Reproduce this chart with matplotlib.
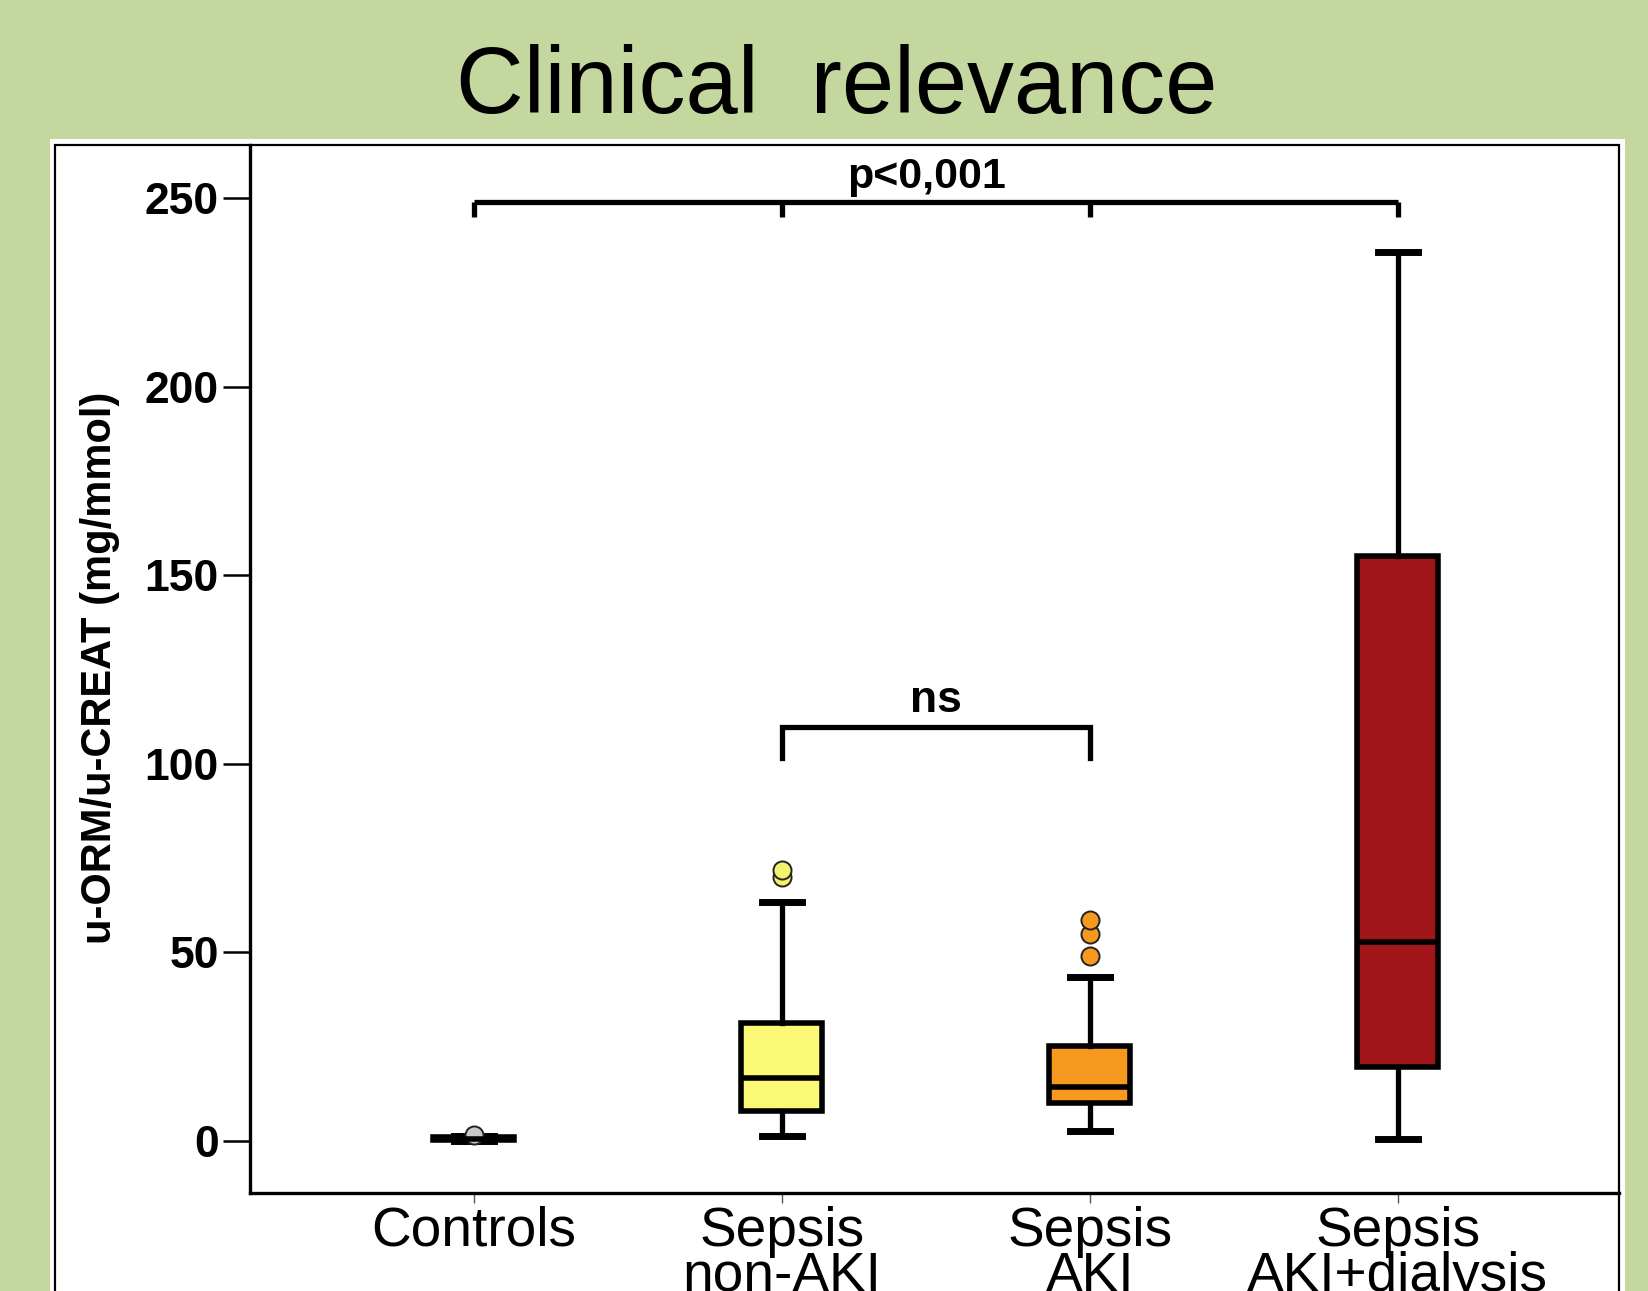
import matplotlib
matplotlib.use("Agg")
import matplotlib.pyplot as plt
from matplotlib.patches import Rectangle

# group summaries (u-ORM/u-CREAT, mg/mmol)
groups = ["Controls", "Sepsis\nnon-AKI", "Sepsis\nAKI", "Sepsis\nAKI+dialysis"]
q1 = [0.2, 7.8, 9.9, 19.4]
median = [0.5, 16.6, 14.2, 52.6]
q3 = [1.0, 31.2, 25.1, 155.0]
whisker_low = [0.0, 1.2, 2.5, 0.4]
whisker_high = [1.2, 63.3, 43.4, 235.8]
outliers = [[1.4], [69.9, 71.8], [49.0, 54.8, 58.5], []]
box_colors = ["#d9d9d9", "#fbf876", "#f7991f", "#a1161b"]
flier_colors = ["#c8c8c8", "#f4f26c", "#f7991f", "#a1161b"]

yticks = [0, 50, 100, 150, 200, 250]

# significance brackets
p_groups = [0, 1, 2, 3]
p_level, p_tip = 249, 245
ns_groups = [1, 2]
ns_level, ns_tip = 109.7, 101.5

W, H = 1649, 1291
green = "#c4d79e"

fig = plt.figure(figsize=(W / 100, H / 100), dpi=100, facecolor=green)

# white panel with thin black frame
fig.patches.append(Rectangle((50 / W, -0.05), (1625 - 50) / W, (H - 139) / H + 0.05,
                             transform=fig.transFigure, facecolor="white",
                             edgecolor="none", zorder=-2))
fig.patches.append(Rectangle((55 / W, -0.05), (1619 - 55) / W, (H - 145) / H + 0.05,
                             transform=fig.transFigure, fill=False,
                             edgecolor="black", linewidth=1.6, zorder=-1))

ax = fig.add_axes([250 / W, 1 - 1193 / H, (1619 - 250) / W, (1193 - 145) / H])
ax.set_facecolor("none")

stats = []
for i in range(len(groups)):
    stats.append(dict(med=median[i], q1=q1[i], q3=q3[i],
                      whislo=whisker_low[i], whishi=whisker_high[i],
                      fliers=outliers[i]))

bp = ax.bxp(stats, positions=range(len(groups)), widths=0.263, capwidths=0.13,
            patch_artist=True,
            boxprops=dict(linewidth=4.0, edgecolor="black"),
            whiskerprops=dict(linewidth=3.8, color="black"),
            capprops=dict(linewidth=5.0, color="black"),
            medianprops=dict(linewidth=4.0, color="black"),
            flierprops=dict(marker="o", markersize=13, markeredgecolor="#222222",
                            markeredgewidth=1.4))
for patch, c in zip(bp["boxes"], box_colors):
    patch.set_facecolor(c)
for fl, c in zip(bp["fliers"], flier_colors):
    fl.set_markerfacecolor(c)

# brackets
ax.plot([p_groups[0], p_groups[-1]], [p_level, p_level], color="black", lw=3.8,
        solid_capstyle="butt", clip_on=False)
for g in p_groups:
    ax.plot([g, g], [p_level, p_tip], color="black", lw=3.8,
            solid_capstyle="butt", clip_on=False)
ax.plot([ns_groups[0], ns_groups[0], ns_groups[1], ns_groups[1]],
        [ns_tip, ns_level, ns_level, ns_tip], color="black", lw=3.8,
        solid_joinstyle="miter")
ax.text(1.47, p_level + 1.2, "p<0,001", ha="center", va="bottom",
        fontsize=31, fontweight="bold", family="Liberation Sans")
ax.text(1.5, ns_level + 1.5, "ns", ha="center", va="bottom",
        fontsize=32, fontweight="bold", family="Liberation Sans")

ax.set_xlim(-0.727, 3.718)
ax.set_ylim(-13.9, 264.1)
ax.set_yticks(yticks)
ax.set_yticklabels([str(v) for v in yticks], fontsize=32, fontweight="bold",
                   family="Liberation Sans")
ax.set_xticks(range(len(groups)))
ax.set_xticklabels(groups, fontsize=39.6, family="Liberation Sans", linespacing=0.83)

ax.spines["top"].set_visible(False)
ax.spines["right"].set_visible(False)
ax.spines["left"].set_linewidth(2.4)
ax.spines["bottom"].set_linewidth(2.4)
ax.tick_params(axis="y", length=19.5, width=1.8, pad=3)
ax.tick_params(axis="x", length=7, width=1.0, pad=2, color="#555555")

fig.text(100 / W, 1 - 668 / H, "u-ORM/u-CREAT (mg/mmol)", rotation=90,
         ha="center", va="center", fontsize=30, fontweight="bold",
         family="Liberation Sans")

fig.text(837 / W, 1 - 113 / H, "Clinical  relevance", ha="center", va="baseline",
         fontsize=67.5, family="Liberation Sans")

fig.savefig("out.png", dpi=100, facecolor=green)
